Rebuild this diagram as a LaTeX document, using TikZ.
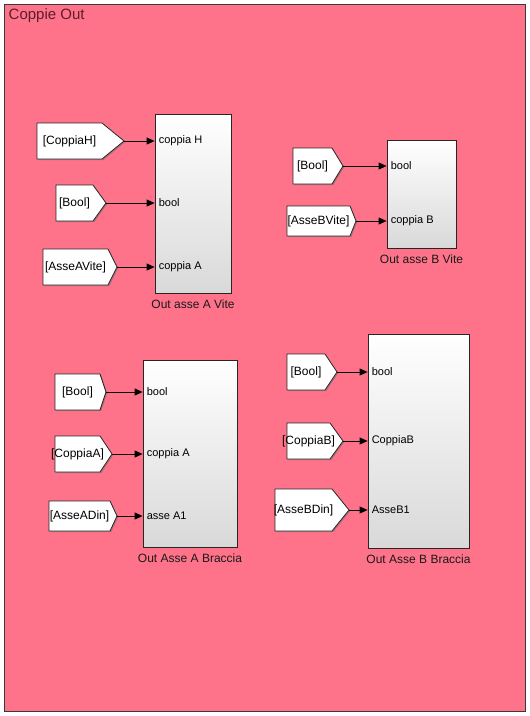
\documentclass[tikz,border=0pt]{standalone}
\usepackage{fontspec}
\setmainfont{Liberation Sans}
\usetikzlibrary{arrows.meta,shadows}
\definecolor{bgpink}{RGB}{255,115,138}
\definecolor{frame}{RGB}{60,55,58}
\definecolor{titlecol}{RGB}{90,30,45}
\tikzset{
  blk/.style={draw=black!85, line width=0.8pt, top color=white, middle color=white, bottom color=black!15,
    drop shadow={shadow xshift=1.2pt, shadow yshift=-1.2pt, fill=black!60, opacity=0.5}},
  gotoshape/.style={draw=black!85, fill=white, line width=0.8pt,
    drop shadow={shadow xshift=1.2pt, shadow yshift=-1.2pt, fill=black!60, opacity=0.5}},
  gototext/.style={inner sep=0pt, font=\fontsize{12}{14}\selectfont, text=black},
  portlbl/.style={anchor=west, inner sep=0pt, xshift=4pt, font=\fontsize{11}{13}\selectfont, text=black},
  blkname/.style={anchor=north, inner sep=0pt, yshift=-6pt, font=\fontsize{12}{14}\selectfont, text=black!90},
  sig/.style={line width=0.8pt, -{Triangle[length=8pt,width=7pt]}},
}
\newcommand\mkgoto[7]{%
  \path[gotoshape] (#2,#5) -- (#3,#5) -- (#4,{(#5+#6)/2}) -- (#3,#6) -- (#2,#6) -- cycle;
  \node[gototext] (#1) at ({(#2+#3)/2},{(#5+#6)/2}) {#7};
  \coordinate (#1t) at (#4,{(#5+#6)/2});
}
\begin{document}
\begin{tikzpicture}[x=1pt,y=-1pt]
\useasboundingbox[fill=white] (0,0) rectangle (530,716);
\draw[fill=bgpink, draw=frame, line width=1pt] (4,4) rectangle (525,711);
\node[anchor=west, inner sep=0pt, font=\fontsize{15}{17}\selectfont, text=titlecol] (title) at (8.5,16) {Coppie Out};

% blocks
\node[blk, minimum width=76pt, minimum height=179pt] (b1) at (193,203.5) {};
\node[blk, minimum width=69pt, minimum height=108pt] (b2) at (421.5,194) {};
\node[blk, minimum width=94pt, minimum height=187pt] (b3) at (190,453.5) {};
\node[blk, minimum width=101pt, minimum height=214pt] (b4) at (418.5,441) {};

\node[blkname] (n1) at (b1.south) {Out asse A Vite};
\node[blkname] (n2) at (b2.south) {Out asse B Vite};
\node[blkname] (n3) at (b3.south) {Out Asse A Braccia};
\node[blkname] (n4) at (b4.south) {Out Asse B Braccia};

% goto / from tags
\mkgoto{g1}{37}{102}{124}{123}{159}{[CoppiaH]}
\mkgoto{g2}{56}{93}{106}{185}{221}{[Bool]}
\mkgoto{g3}{43}{108}{117}{249}{285}{[AsseAVite]}
\mkgoto{g4}{293}{332}{343}{148}{184}{[Bool]}
\mkgoto{g5}{287}{350}{356}{206}{236}{[AsseBVite]}
\mkgoto{g6}{55}{100}{106}{374}{410}{[Bool]}
\mkgoto{g7}{55}{100}{112}{436}{472}{[CoppiaA]}
\mkgoto{g8}{49}{110}{117}{501}{531}{[AsseADin]}
\mkgoto{g9}{287}{325}{337}{354}{390}{[Bool]}
\mkgoto{g10}{287}{330}{343}{423}{459}{[CoppiaB]}
\mkgoto{g11}{275}{332}{349}{489}{531}{[AsseBDin]}

% connectors
\foreach \g/\b in {g1/b1,g2/b1,g3/b1,g4/b2,g5/b2,g6/b3,g7/b3,g8/b3,g9/b4,g10/b4,g11/b4}
  \draw[sig] (\g t) -- (\g t -| \b.west);

% port labels
\node[portlbl] (p11) at (g1t -| b1.west) {coppia H};
\node[portlbl] (p12) at (g2t -| b1.west) {bool};
\node[portlbl] (p13) at (g3t -| b1.west) {coppia A};
\node[portlbl] (p21) at (g4t -| b2.west) {bool};
\node[portlbl] (p22) at (g5t -| b2.west) {coppia B};
\node[portlbl] (p31) at (g6t -| b3.west) {bool};
\node[portlbl] (p32) at (g7t -| b3.west) {coppia A};
\node[portlbl] (p33) at (g8t -| b3.west) {asse A1};
\node[portlbl] (p41) at (g9t -| b4.west) {bool};
\node[portlbl] (p42) at (g10t -| b4.west) {CoppiaB};
\node[portlbl] (p43) at (g11t -| b4.west) {AsseB1};
\end{tikzpicture}
\end{document}
